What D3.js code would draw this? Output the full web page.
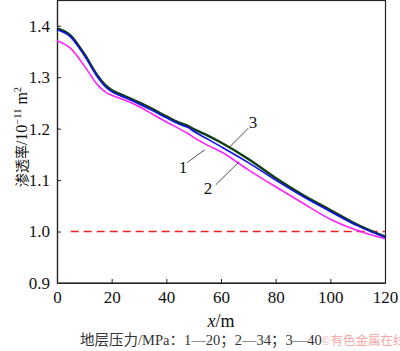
<!DOCTYPE html>
<html>
  <head>
    <meta charset="utf-8" />
    <title>permeability</title>
    <script src="https://cdn.jsdelivr.net/npm/d3@7"></script>
    <style>
      body { margin: 0; background: #fff; }
      text { font-family: "Liberation Serif", "Times New Roman", "Noto Sans CJK SC", serif; }
    </style>
  </head>
  <body>
    <svg width="400" height="351" id="mainsvg"></svg>
    <script>
      // distance along x (m)
      const xs = [0, 5, 10, 15, 18, 20, 25, 30, 35, 40, 45, 48, 50, 55, 60, 70, 80, 90, 100, 110, 120];
      // permeability, 10^-11 m^2
      const p20 = [1.371, 1.356, 1.322, 1.284, 1.270, 1.265, 1.255, 1.243, 1.228, 1.213, 1.199, 1.190, 1.183, 1.168, 1.155, 1.120, 1.087, 1.055, 1.024, 1.002, 0.986];
      const p34 = [1.392, 1.378, 1.342, 1.299, 1.280, 1.272, 1.260, 1.248, 1.235, 1.221, 1.208, 1.202, 1.195, 1.180, 1.165, 1.134, 1.100, 1.068, 1.039, 1.011, 0.989];
      const p40 = [1.395, 1.381, 1.345, 1.302, 1.283, 1.275, 1.263, 1.251, 1.238, 1.224, 1.211, 1.205, 1.199, 1.187, 1.173, 1.141, 1.104, 1.071, 1.042, 1.013, 0.990];
      const xTicks = [0, 20, 40, 60, 80, 100, 120];
      const yTicks = [0.9, 1.0, 1.1, 1.2, 1.3, 1.4];
      const refLine = 1.0;
      // curve labels: [text, labelX, labelY, leaderX1, leaderY1, leaderX2, leaderY2]
      const curveLabels = [
        ["1", 46.1, 1.126, 47.6, 1.134, 54.1, 1.159],
        ["2", 55.2, 1.085, 58.1, 1.091, 66.7, 1.136],
        ["3", 71.7, 1.213, 70.0, 1.201, 63.3, 1.165]
      ];

      const svg = d3.select("#mainsvg");
      const margin = { top: 0, right: 15, bottom: 68, left: 57 };
      const innerWidth = 400 - margin.left - margin.right;
      const innerHeight = 351 - margin.top - margin.bottom;
      const g = svg.append("g").attr("transform", `translate(${margin.left}, ${margin.top})`);

      const xScale = d3.scaleLinear().domain([0, 120]).range([0, innerWidth]);
      const yScale = d3.scaleLinear().domain([0.9, 1.45]).range([innerHeight, 0]);

      // frame
      g.append("rect")
        .attr("x", 0.5).attr("y", 0.5)
        .attr("width", innerWidth).attr("height", innerHeight - 0.5)
        .attr("fill", "none").attr("stroke", "#222").attr("stroke-width", 1.2);

      const xAxis = d3.axisBottom(xScale).tickValues(xTicks).tickSizeInner(-4).tickSizeOuter(0).tickPadding(8);
      const yAxis = d3.axisLeft(yScale).tickValues(yTicks).tickFormat(d3.format(".1f"))
        .tickSizeInner(-4).tickSizeOuter(0).tickPadding(7);

      const xg = g.append("g").attr("transform", `translate(0, ${innerHeight})`).call(xAxis);
      const yg = g.append("g").call(yAxis);
      [xg, yg].forEach((a) => {
        a.select(".domain").attr("stroke", "#222").attr("stroke-width", 1.2);
        a.selectAll(".tick line").attr("stroke", "#222");
        a.selectAll(".tick text").attr("font-size", 17).attr("fill", "#111")
          .attr("font-family", "'Liberation Serif', serif");
      });

      // dashed reference
      g.append("line")
        .attr("x1", xScale(5)).attr("x2", xScale(120))
        .attr("y1", yScale(refLine)).attr("y2", yScale(refLine))
        .attr("stroke", "#f02020").attr("stroke-width", 1.5)
        .attr("stroke-dasharray", "8,5");

      const line = d3.line()
        .x((d) => xScale(d[0]))
        .y((d) => yScale(d[1]))
        .curve(d3.curveMonotoneX);

      const series = [
        { vals: p20, color: "#ff22ff", w: 1.6 },
        { vals: p40, color: "#0d3d12", w: 2.4 },
        { vals: p34, color: "#1010ee", w: 1.6 }
      ];
      series.forEach((s) => {
        g.append("path")
          .datum(xs.map((x, i) => [x, s.vals[i]]))
          .attr("fill", "none")
          .attr("stroke", s.color)
          .attr("stroke-width", s.w)
          .attr("d", line);
      });

      // curve labels with leaders
      curveLabels.forEach((c) => {
        g.append("line")
          .attr("x1", xScale(c[3])).attr("y1", yScale(c[4]))
          .attr("x2", xScale(c[5])).attr("y2", yScale(c[6]))
          .attr("stroke", "#222").attr("stroke-width", 0.8);
        g.append("text")
          .attr("x", xScale(c[1])).attr("y", yScale(c[2]))
          .attr("text-anchor", "middle").attr("dy", "0.35em")
          .attr("font-size", 17).attr("fill", "#111")
          .text(c[0]);
      });

      // axis titles
      const xt = svg.append("text")
        .attr("x", margin.left + innerWidth / 2).attr("y", 327)
        .attr("text-anchor", "middle").attr("font-size", 18).attr("fill", "#111");
      xt.append("tspan").attr("font-style", "italic").text("x");
      xt.append("tspan").text("/m");

      const yt = svg.append("text")
        .attr("transform", "translate(27, 137) rotate(-90)")
        .attr("text-anchor", "middle").attr("font-size", 16).attr("fill", "#111");
      yt.append("tspan").attr("font-family", "'Noto Sans CJK SC', sans-serif").attr("font-size", 14).text("渗透率");
      yt.append("tspan").text("/10");
      yt.append("tspan").attr("font-size", 10.5).attr("dy", -6).text("−11");
      yt.append("tspan").attr("dy", 6).text(" m");
      yt.append("tspan").attr("font-size", 10.5).attr("dy", -6).text("2");

      // footer note
      svg.append("text")
        .attr("x", 80).attr("y", 345)
        .attr("font-size", 14.5).attr("fill", "#333")
        .attr("font-family", "'Liberation Serif', 'Noto Sans CJK SC', serif")
        .text("地层压力/MPa：1—20；2—34；3—40");

      svg.append("text")
        .attr("x", 321).attr("y", 345)
        .attr("font-size", 12.5).attr("fill", "#f4a8a8")
        .attr("font-family", "'Noto Sans CJK SC', sans-serif")
        .text("©有色金属在线");
    </script>
  </body>
</html>
